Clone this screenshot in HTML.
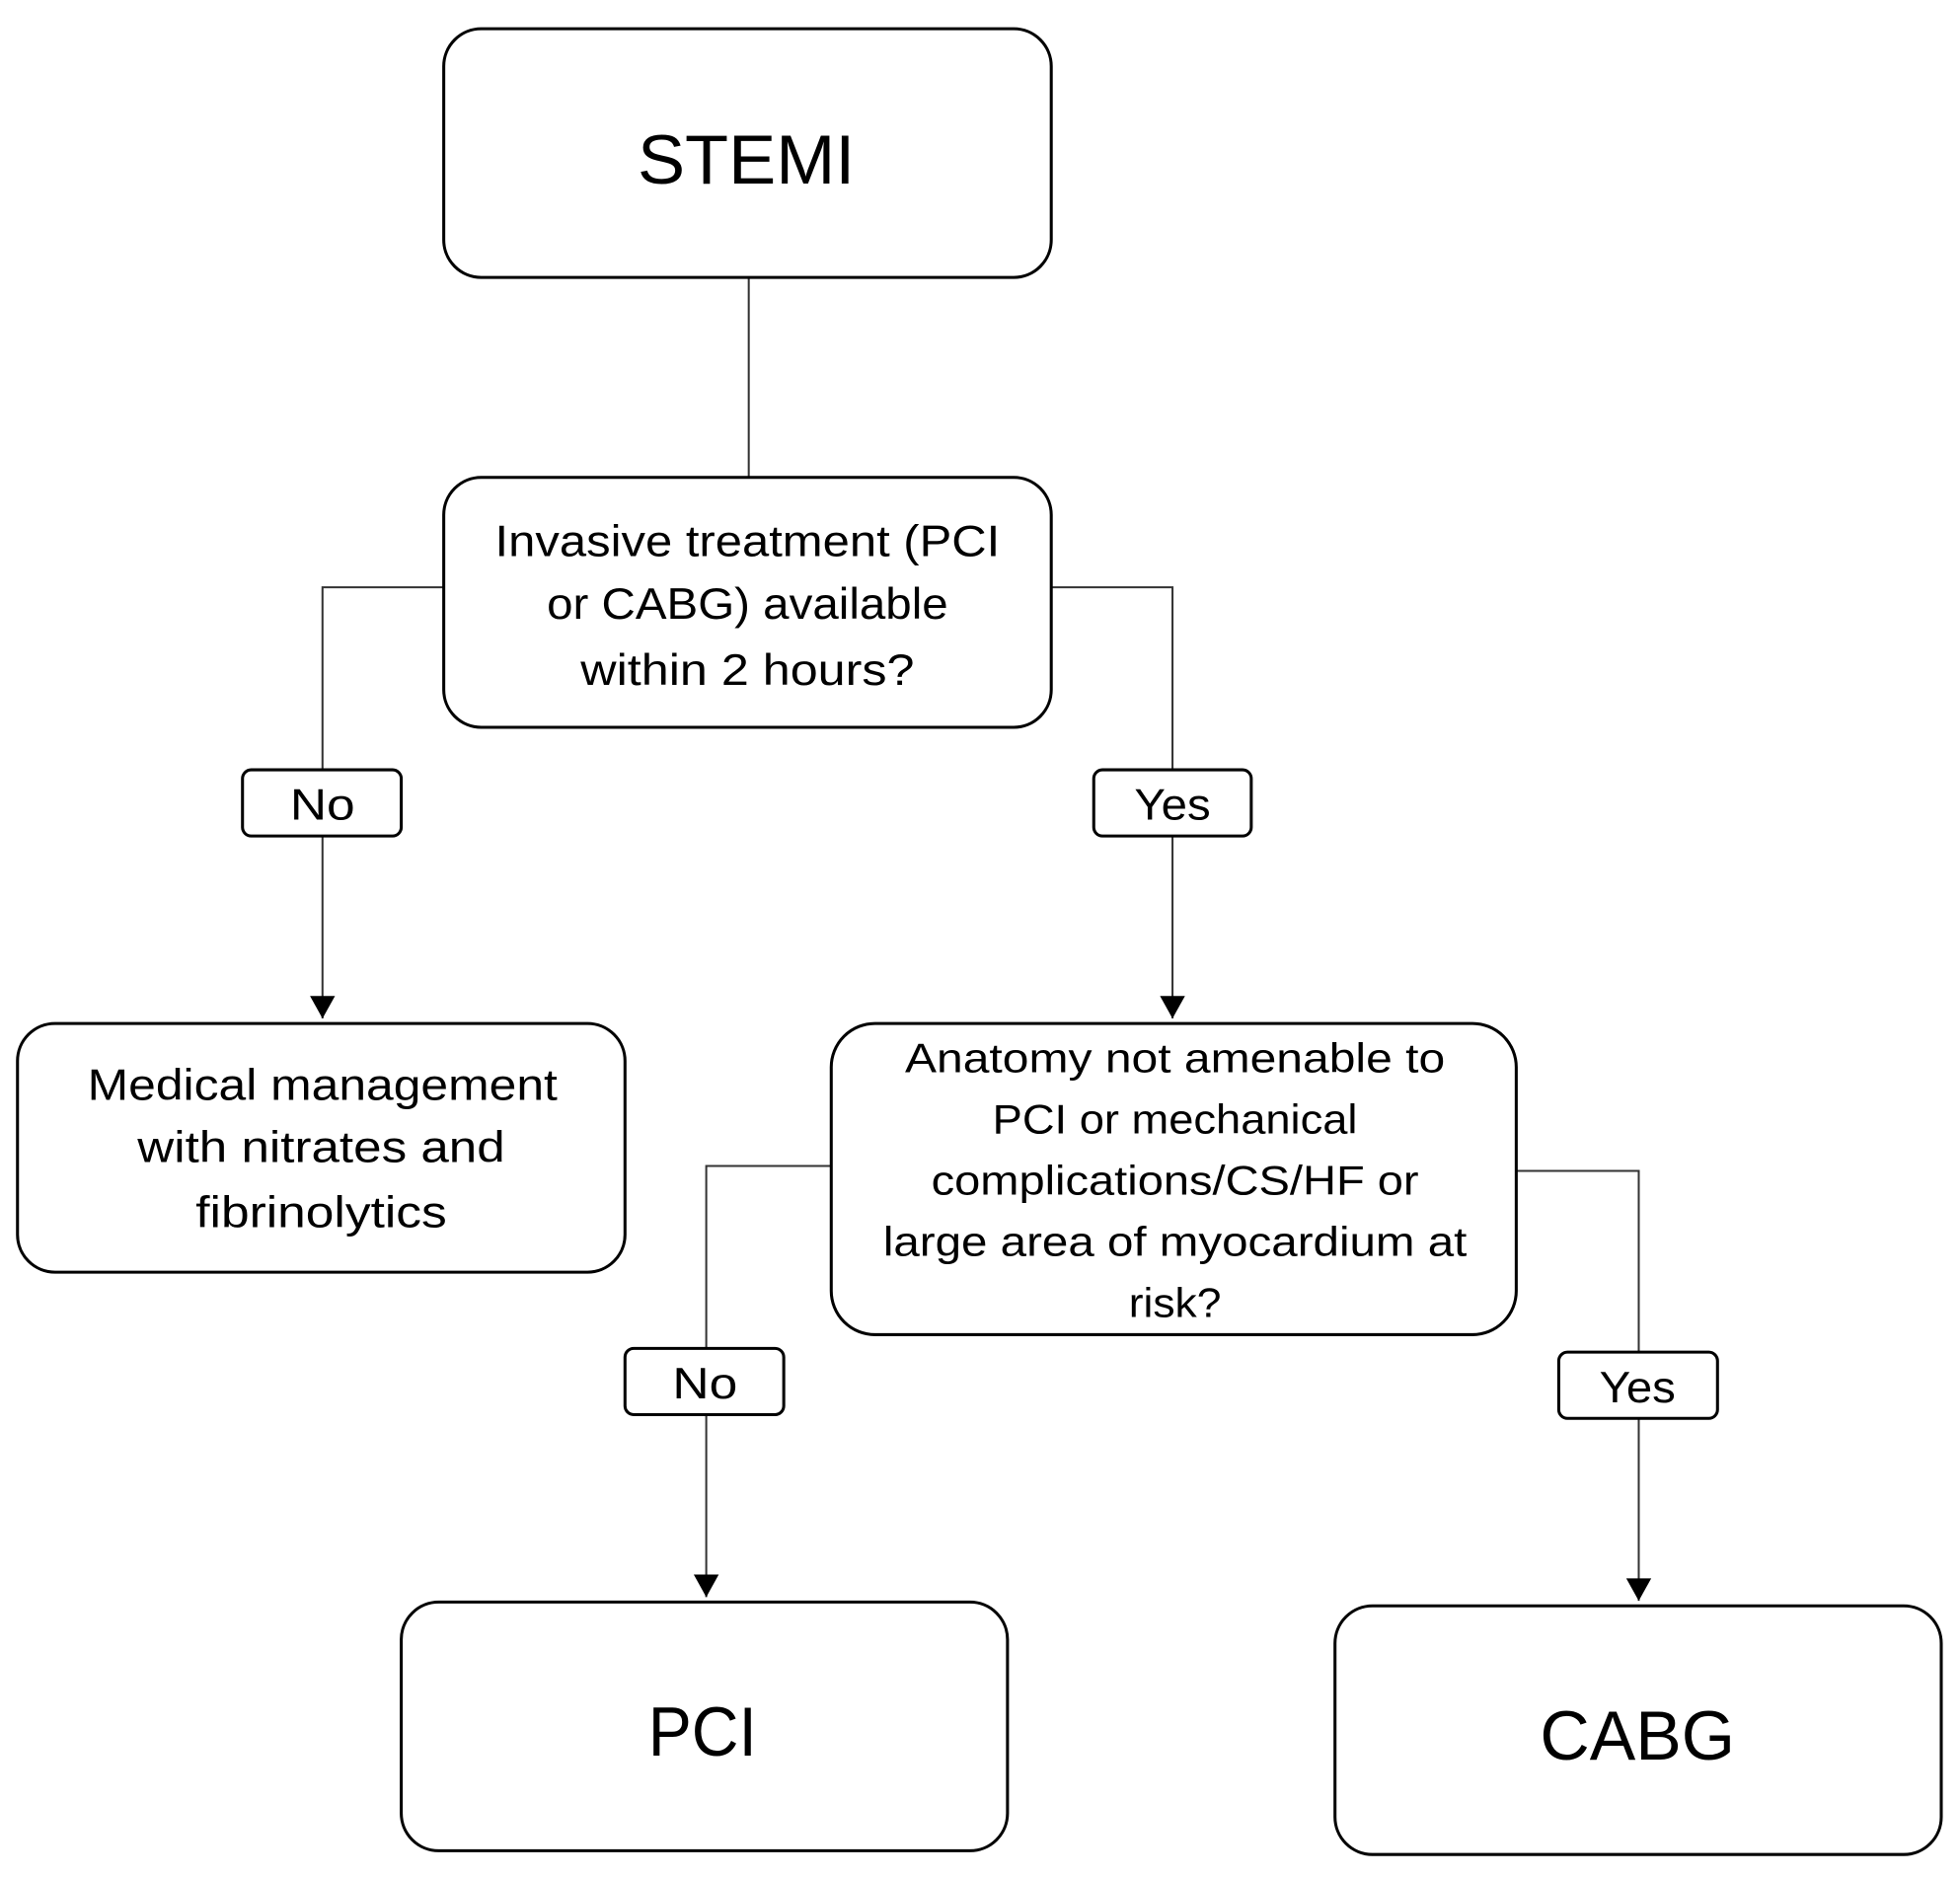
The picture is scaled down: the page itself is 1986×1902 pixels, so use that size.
<!DOCTYPE html>
<html><head><meta charset="utf-8"><style>html,body{margin:0;padding:0;background:#fff}svg{display:block}</style></head>
<body>
<svg width="1986" height="1902" viewBox="0 0 1568 1502" preserveAspectRatio="none" xmlns="http://www.w3.org/2000/svg" font-family="Liberation Sans, sans-serif" text-anchor="middle">
<defs><marker id="a" markerWidth="10" markerHeight="10" refX="10" refY="5" orient="auto" markerUnits="userSpaceOnUse" viewBox="0 0 10 10"><path d="M0,0L10,5L0,10z" fill="#000"/></marker></defs>
<g fill="none" stroke="#333" stroke-width="1.6">
<path d="M599,222V382"/>
<path d="M355,470H258V616"/><path d="M258,669V815" marker-end="url(#a)"/>
<path d="M841,470H938V616"/><path d="M938,669V815" marker-end="url(#a)"/>
<path d="M665,933H565V1079"/><path d="M565,1132V1278" marker-end="url(#a)"/>
<path d="M1213,937H1311V1082"/><path d="M1311,1135V1281" marker-end="url(#a)"/>
</g>
<style>.m{stroke-width:0}</style>
<g fill="#000">
<path d="M248,797l10,18l10,-18z"/><path d="M928,797l10,18l10,-18z"/>
<path d="M555,1260l10,18l10,-18z"/><path d="M1301,1263l10,18l10,-18z"/>
</g>
<g fill="#fff" stroke="#000" stroke-width="2.4">
<rect x="355" y="23" width="486" height="199" rx="30"/>
<rect x="355" y="382" width="486" height="200" rx="30"/>
<rect x="14" y="819" width="486" height="199" rx="30"/>
<rect x="665" y="819" width="548" height="249" rx="35"/>
<rect x="321" y="1282" width="485" height="199" rx="30"/>
<rect x="1068" y="1285" width="485" height="199" rx="30"/>
<rect x="194" y="616" width="127" height="53" rx="7"/>
<rect x="875" y="616" width="126" height="53" rx="7"/>
<rect x="500" y="1079" width="127" height="53" rx="7"/>
<rect x="1247" y="1082" width="127" height="53" rx="7"/>
</g>
<g fill="#000">
<text x="597" y="147" font-size="56" textLength="174" lengthAdjust="spacingAndGlyphs">STEMI</text>
<g font-size="35">
<text x="598" y="445" textLength="404" lengthAdjust="spacingAndGlyphs">Invasive treatment (PCI</text>
<text x="598" y="495" textLength="321" lengthAdjust="spacingAndGlyphs">or CABG) available</text>
<text x="598" y="548" textLength="267" lengthAdjust="spacingAndGlyphs">within 2 hours?</text>
<text x="258" y="880" textLength="376" lengthAdjust="spacingAndGlyphs">Medical management</text>
<text x="257" y="930" textLength="294" lengthAdjust="spacingAndGlyphs">with nitrates and</text>
<text x="257" y="982" textLength="201" lengthAdjust="spacingAndGlyphs">fibrinolytics</text>
<text x="258" y="656" textLength="52" lengthAdjust="spacingAndGlyphs">No</text>
<text x="938" y="656" textLength="61" lengthAdjust="spacingAndGlyphs">Yes</text>
<text x="564" y="1119" textLength="52" lengthAdjust="spacingAndGlyphs">No</text>
<text x="1310" y="1122" textLength="61" lengthAdjust="spacingAndGlyphs">Yes</text>
</g>
<g font-size="33">
<text x="940" y="858" textLength="432" lengthAdjust="spacingAndGlyphs">Anatomy not amenable to</text>
<text x="940" y="907" textLength="292" lengthAdjust="spacingAndGlyphs">PCI or mechanical</text>
<text x="940" y="956" textLength="390" lengthAdjust="spacingAndGlyphs">complications/CS/HF or</text>
<text x="940" y="1005" textLength="467" lengthAdjust="spacingAndGlyphs">large area of myocardium at</text>
<text x="940" y="1054" textLength="74" lengthAdjust="spacingAndGlyphs">risk?</text>
</g>
<text x="562" y="1405" font-size="56" textLength="87" lengthAdjust="spacingAndGlyphs">PCI</text>
<text x="1310" y="1408" font-size="56" textLength="156" lengthAdjust="spacingAndGlyphs">CABG</text>
</g>
</svg>
</body></html>
